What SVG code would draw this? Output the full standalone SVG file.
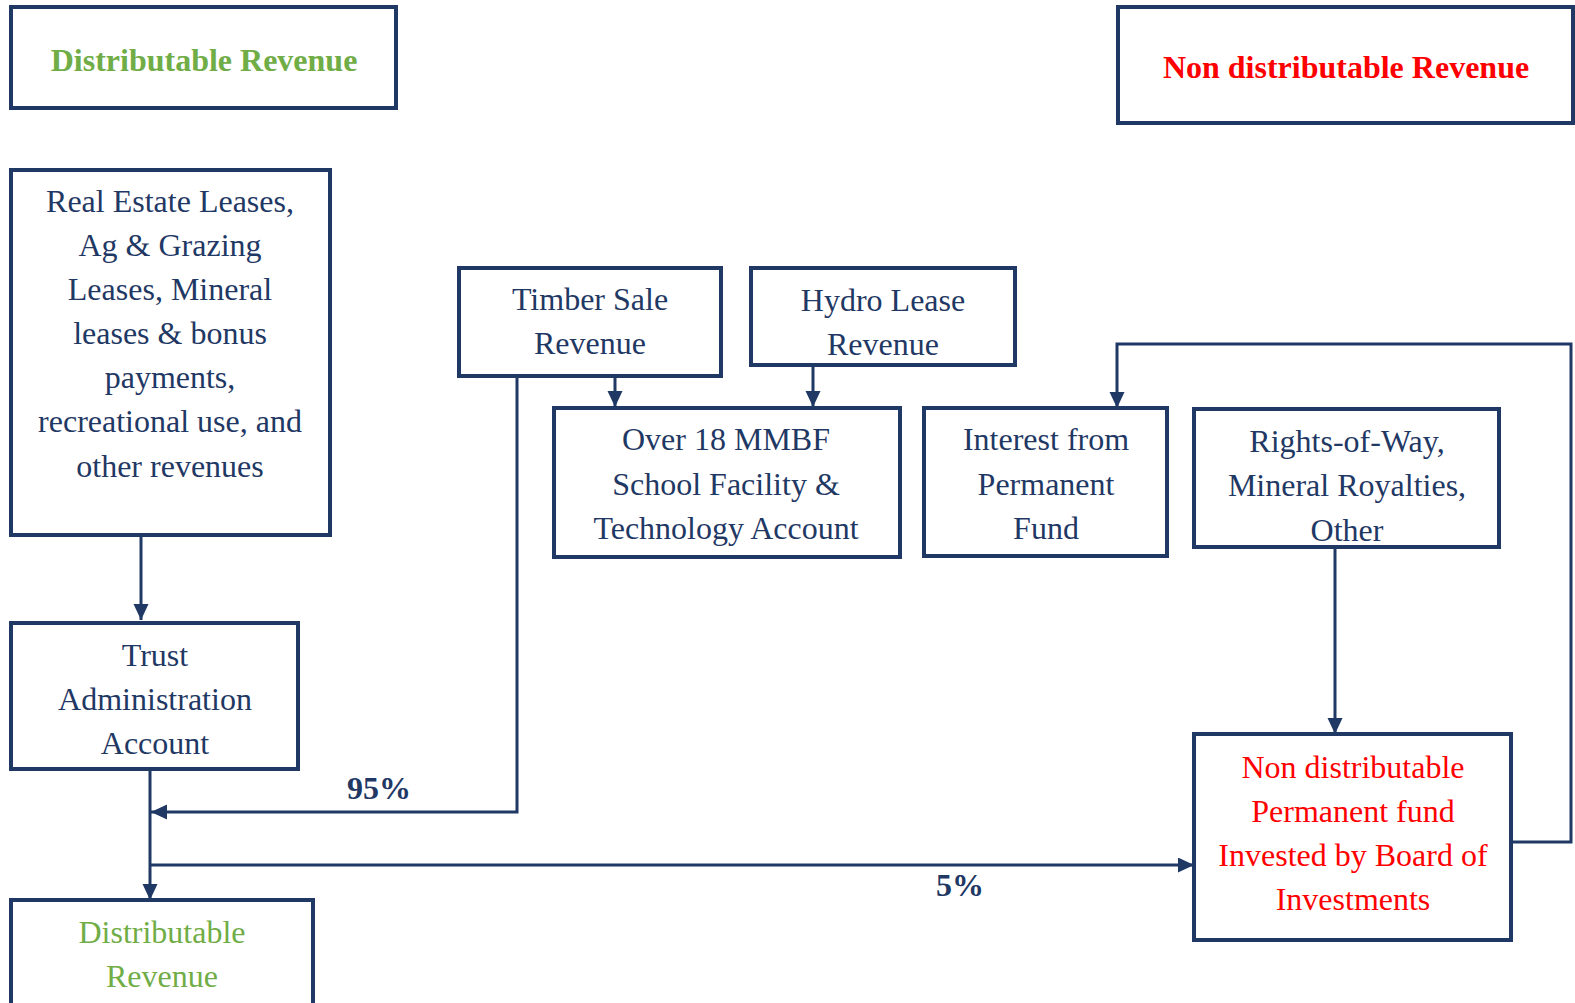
<svg xmlns="http://www.w3.org/2000/svg" width="1575" height="1003" viewBox="0 0 1575 1003">
<style>
.box{fill:#fff;stroke:#1F3864;stroke-width:4}
.t{font-family:"Liberation Serif","Times New Roman",serif;font-size:32px;fill:#1F3864;text-anchor:middle}
.b{font-family:"Liberation Serif","Times New Roman",serif;font-size:32px;font-weight:bold;text-anchor:middle}
.g{fill:#70AD47}
.r{fill:#FF0000}
.c{fill:none;stroke:#1F3864;stroke-width:3}
.lbl{font-family:"Liberation Serif","Times New Roman",serif;font-size:32px;font-weight:bold;fill:#1F3864;text-anchor:middle}
</style>
<defs>
<marker id="ah" markerUnits="userSpaceOnUse" markerWidth="18" markerHeight="16" refX="16" refY="7.5" orient="auto">
<path d="M0,0 L16,7.5 L0,15 Z" fill="#1F3864"/>
</marker>
</defs>
<rect width="1575" height="1003" fill="#fff"/>

<g id="connectors">
<path class="c" d="M141,534 V620" marker-end="url(#ah)"/>
<path class="c" d="M615,376 V407" marker-end="url(#ah)"/>
<path class="c" d="M813,365 V407" marker-end="url(#ah)"/>
<path class="c" d="M517,376 V812 H151" marker-end="url(#ah)"/>
<path class="c" d="M150,769 V900" marker-end="url(#ah)"/>
<path class="c" d="M150,865 H1194" marker-end="url(#ah)"/>
<path class="c" d="M1335,547 V734" marker-end="url(#ah)"/>
<path class="c" d="M1511,842 H1571 V344 H1117 V408" marker-end="url(#ah)"/>
<text class="lbl" x="379" y="799">95%</text>
<text class="lbl" x="960" y="896">5%</text>
</g>

<g id="hdr-dist">
<rect class="box" x="11" y="7" width="385" height="101"/>
<text class="b g" x="204" y="71">Distributable Revenue</text>
</g>

<g id="hdr-nondist">
<rect class="box" x="1118" y="7" width="455" height="116"/>
<text class="b r" x="1346" y="78">Non distributable Revenue</text>
</g>

<g id="real-estate">
<rect class="box" x="11" y="170" width="319" height="365"/>
<text class="t"><tspan x="170" y="212">Real Estate Leases,</tspan><tspan x="170" y="256">Ag &amp; Grazing</tspan><tspan x="170" y="300">Leases, Mineral</tspan><tspan x="170" y="344">leases &amp; bonus</tspan><tspan x="170" y="388">payments,</tspan><tspan x="170" y="432">recreational use, and</tspan><tspan x="170" y="477">other revenues</tspan></text>
</g>

<g id="timber">
<rect class="box" x="459" y="268" width="262" height="108"/>
<text class="t"><tspan x="590" y="310">Timber Sale</tspan><tspan x="590" y="354">Revenue</tspan></text>
</g>

<g id="hydro">
<rect class="box" x="751" y="268" width="264" height="97"/>
<text class="t"><tspan x="883" y="311">Hydro Lease</tspan><tspan x="883" y="355">Revenue</tspan></text>
</g>

<g id="over18">
<rect class="box" x="554" y="408" width="346" height="149"/>
<text class="t"><tspan x="726" y="450">Over 18 MMBF</tspan><tspan x="726" y="495">School Facility &amp;</tspan><tspan x="726" y="539">Technology Account</tspan></text>
</g>

<g id="interest">
<rect class="box" x="924" y="408" width="243" height="148"/>
<text class="t"><tspan x="1046" y="450">Interest from</tspan><tspan x="1046" y="495">Permanent</tspan><tspan x="1046" y="539">Fund</tspan></text>
</g>

<g id="rights">
<rect class="box" x="1194" y="409" width="305" height="138"/>
<text class="t"><tspan x="1347" y="452">Rights-of-Way,</tspan><tspan x="1347" y="496">Mineral Royalties,</tspan><tspan x="1347" y="541">Other</tspan></text>
</g>

<g id="trust">
<rect class="box" x="11" y="623" width="287" height="146"/>
<text class="t"><tspan x="155" y="666">Trust</tspan><tspan x="155" y="710">Administration</tspan><tspan x="155" y="754">Account</tspan></text>
</g>

<g id="dist-rev">
<rect class="box" x="11" y="900" width="302" height="110"/>
<text class="t g"><tspan x="162" y="943">Distributable</tspan><tspan x="162" y="987">Revenue</tspan></text>
</g>

<g id="nondist-fund">
<rect class="box" x="1194" y="734" width="317" height="206"/>
<text class="t r"><tspan x="1353" y="778">Non distributable</tspan><tspan x="1353" y="822">Permanent  fund</tspan><tspan x="1353" y="866">Invested by Board of</tspan><tspan x="1353" y="910">Investments</tspan></text>
</g>
</svg>
